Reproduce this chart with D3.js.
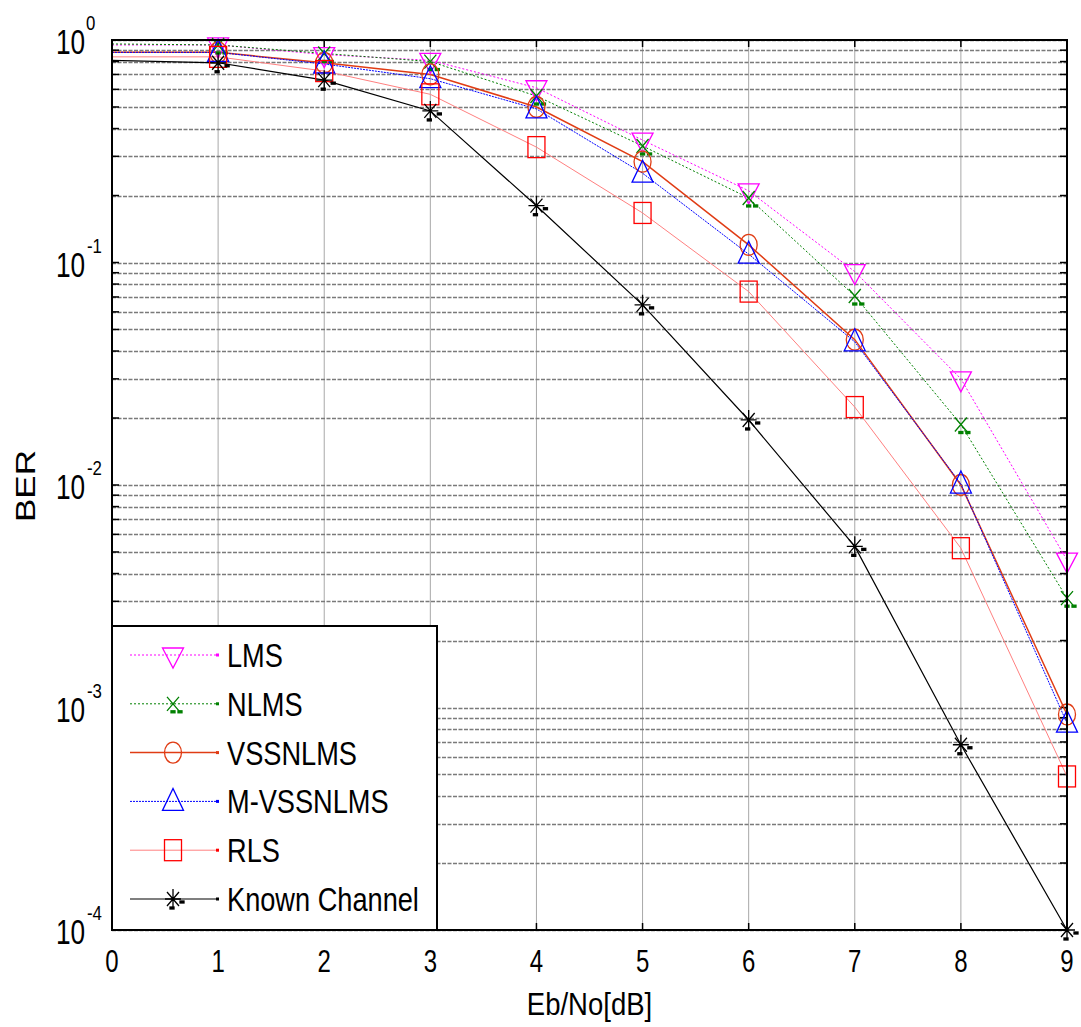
<!DOCTYPE html>
<html>
<head>
<meta charset="utf-8">
<script src="https://cdn.jsdelivr.net/npm/d3@7"></script>
<style>
  body { margin: 0; background: #fff; }
  text { font-family: "Liberation Sans", Arial, sans-serif; fill: #000; }
</style>
</head>
<body>
<svg id="chart" width="1081" height="1027"></svg>
<script>
// Eb/No values (dB)
const ebno = [0, 1, 2, 3, 4, 5, 6, 7, 8, 9]
// BER per algorithm
const lms = [0.95, 0.95, 0.86, 0.81, 0.61, 0.355, 0.21, 0.091, 0.030, 0.0046]
const nlms = [0.96, 0.95, 0.87, 0.80, 0.56, 0.334, 0.195, 0.0707, 0.0187, 0.0031]
const vssnlms = [0.88, 0.88, 0.79, 0.70, 0.50, 0.284, 0.12, 0.045, 0.0100, 0.00093]
const mvssnlms = [0.88, 0.88, 0.78, 0.67, 0.49, 0.252, 0.109, 0.044, 0.0101, 0.00085]
const rls = [0.84, 0.84, 0.725, 0.57, 0.33, 0.167, 0.074, 0.0224, 0.0052, 0.00049]
const known = [0.81, 0.79, 0.66, 0.48, 0.18, 0.0645, 0.0196, 0.0053, 0.00068, 0.0001]

const seriesNames = ['LMS', 'NLMS', 'VSSNLMS', 'M-VSSNLMS', 'RLS', 'Known Channel']
const xTickLabels = ['0', '1', '2', '3', '4', '5', '6', '7', '8', '9']
const yTickExps = ['0', '-1', '-2', '-3', '-4']

const series = [
    {name: seriesNames[0], values: lms, line: '#ff00ff', mark: '#ff00ff', dash: '2,2', w: 1, marker: 'tridown'},
    {name: seriesNames[1], values: nlms, line: '#008000', mark: '#008000', dash: '2,2', w: 1, marker: 'x'},
    {name: seriesNames[2], values: vssnlms, line: '#e03c14', mark: '#e03c14', dash: null, w: 1.5, marker: 'circle'},
    {name: seriesNames[3], values: mvssnlms, line: '#0000ff', mark: '#0000ff', dash: '2,1', w: 1, marker: 'triup'},
    {name: seriesNames[4], values: rls, line: '#ff8080', mark: '#ff0000', dash: null, w: 1, marker: 'square'},
    {name: seriesNames[5], values: known, line: '#000000', mark: '#000000', dash: null, w: 1.2, marker: 'star'}
]

const margin = {left: 112, right: 1067, top: 40, bottom: 930}
const svg = d3.select('#chart')

const x = d3.scaleLinear().domain([0, 9]).range([margin.left, margin.right])
const y = d3.scaleLog().domain([1e-4, 1]).range([margin.bottom, margin.top])

// 绘图区背景
svg.append('rect').attr('x', margin.left).attr('y', margin.top)
    .attr('width', margin.right - margin.left).attr('height', margin.bottom - margin.top).attr('fill', '#fff')

// 竖直网格线
svg.append('g').selectAll('line').data(ebno).enter().append('line')
    .attr('x1', d => x(d)).attr('x2', d => x(d))
    .attr('y1', margin.top).attr('y2', margin.bottom)
    .attr('stroke', '#a8a8a8').attr('stroke-width', 1)

// 水平网格线 (log minor)
const yTicks = y.ticks()
svg.append('g').selectAll('line').data(yTicks).enter().append('line')
    .attr('x1', margin.left).attr('x2', margin.right)
    .attr('y1', d => Math.round(y(d)) + 0.5).attr('y2', d => Math.round(y(d)) + 0.5)
    .attr('stroke', '#7a7a7a').attr('stroke-width', 1.3)
    .attr('stroke-dasharray', '4,1.5')

// tick marks on all sides
const tickG = svg.append('g').attr('stroke', '#000').attr('stroke-width', 1.5)
tickG.selectAll('.tl').data(yTicks).enter().append('line')
    .attr('x1', margin.left).attr('x2', margin.left + 7)
    .attr('y1', d => y(d)).attr('y2', d => y(d))
tickG.selectAll('.tr').data(yTicks).enter().append('line')
    .attr('x1', margin.right).attr('x2', margin.right - 7)
    .attr('y1', d => y(d)).attr('y2', d => y(d))
tickG.selectAll('.tt').data(ebno).enter().append('line')
    .attr('x1', d => x(d)).attr('x2', d => x(d))
    .attr('y1', margin.top).attr('y2', margin.top + 7)
tickG.selectAll('.tb').data(ebno).enter().append('line')
    .attr('x1', d => x(d)).attr('x2', d => x(d))
    .attr('y1', margin.bottom).attr('y2', margin.bottom - 7)

// 曲线
const clip = svg.append('clipPath').attr('id', 'clip')
clip.append('rect').attr('x', margin.left).attr('y', margin.top - 12)
    .attr('width', margin.right - margin.left + 12).attr('height', margin.bottom - margin.top + 24)

const line = d3.line()
    .x((d, i) => x(ebno[i]))
    .y(d => y(d))

const plotG = svg.append('g').attr('clip-path', 'url(#clip)')

series.forEach(s => {
    plotG.append('path')
        .datum(s.values)
        .attr('fill', 'none')
        .attr('stroke', s.line)
        .attr('stroke-width', s.w)
        .attr('stroke-dasharray', s.dash)
        .attr('d', line)
})

function drawMarker(g, type, cx, cy, color) {
    const m = g.append('g').attr('transform', 'translate(' + cx + ',' + cy + ')')
        .attr('fill', 'none').attr('stroke', color).attr('stroke-width', 1.3)
    if (type === 'tridown') {
        m.append('path').attr('d', 'M-10.5,-7 L10.5,-7 L0,13 Z')
    } else if (type === 'triup') {
        m.append('path').attr('d', 'M-10.5,9 L10.5,9 L0,-13 Z')
    } else if (type === 'circle') {
        m.append('ellipse').attr('rx', 8.5).attr('ry', 10.5)
    } else if (type === 'square') {
        m.append('rect').attr('x', -8.5).attr('y', -10.5).attr('width', 17).attr('height', 21)
    } else if (type === 'x') {
        m.append('path').attr('d', 'M-6,-7 L6,7 M-6,7 L6,-7')
        m.append('rect').attr('x', -2).attr('y', 7).attr('width', 4).attr('height', 2).attr('fill', color)
        m.append('rect').attr('x', 5).attr('y', 7).attr('width', 4).attr('height', 2).attr('fill', color)
    } else if (type === 'star') {
        m.append('path').attr('d', 'M-8,0 L8,0 M0,-10 L0,10 M-6,-7 L6,7 M-6,7 L6,-7')
        m.append('rect').attr('x', 7).attr('y', 2).attr('width', 4).attr('height', 2).attr('fill', color)
        m.append('rect').attr('x', -3).attr('y', 8).attr('width', 4).attr('height', 2).attr('fill', color)
    }
}

series.forEach(s => {
    s.values.forEach((v, i) => {
        if (ebno[i] === 0) return
        drawMarker(plotG, s.marker, x(ebno[i]), y(v), s.mark)
    })
})

// 坐标框
svg.append('rect').attr('x', margin.left).attr('y', margin.top)
    .attr('width', margin.right - margin.left).attr('height', margin.bottom - margin.top)
    .attr('fill', 'none').attr('stroke', '#000').attr('stroke-width', 2)

// 图例
const legX = margin.left, legY = 626, legW = 325, legH = margin.bottom - 626
const leg = svg.append('g')
leg.append('rect').attr('x', legX).attr('y', legY).attr('width', legW).attr('height', legH)
    .attr('fill', '#fff').attr('stroke', '#000').attr('stroke-width', 2)
series.forEach((s, i) => {
    const ly = 655 + i * 48.8
    leg.append('line').attr('x1', 130).attr('x2', 218).attr('y1', ly).attr('y2', ly)
        .attr('stroke', s.line).attr('stroke-width', s.w).attr('stroke-dasharray', s.dash)
    leg.append('rect').attr('x', 216).attr('y', ly - 1.5).attr('width', 3).attr('height', 3).attr('fill', s.mark)
    drawMarker(leg, s.marker, 173, ly, s.mark)
    leg.append('text')
        .attr('transform', 'translate(227,' + (ly + 12) + ') scale(0.8,1)')
        .style('font-size', '34px')
        .text(s.name)
})

// x 轴刻度
svg.append('g').selectAll('text').data(ebno).enter().append('text')
    .attr('transform', d => 'translate(' + x(d) + ',972) scale(0.75,1)')
    .attr('text-anchor', 'middle')
    .style('font-size', '32px')
    .text((d, i) => xTickLabels[i])

// y 轴刻度 10^n
const yLab = svg.append('g')
yTickExps.forEach(e => {
    const ty = y(Math.pow(10, +e))
    yLab.append('text')
        .attr('transform', 'translate(56,' + (ty + 14) + ') scale(0.75,1)')
        .style('font-size', '35px')
        .text('10')
    yLab.append('text')
        .attr('transform', 'translate(' + (e.length > 1 ? 87 : 86) + ',' + (ty - 10) + ') scale(0.8,1)')
        .style('font-size', '21px')
        .text(e)
})

// 轴标题
svg.append('text')
    .attr('transform', 'translate(' + ((margin.left + margin.right) / 2) + ',1015) scale(0.86,1)')
    .attr('text-anchor', 'middle')
    .style('font-size', '32px')
    .text('Eb/No[dB]')

svg.append('text')
    .attr('transform', 'translate(35,486) rotate(-90) scale(1,0.8)')
    .attr('text-anchor', 'middle')
    .style('font-size', '35px')
    .text('BER')
</script>
</body>
</html>
